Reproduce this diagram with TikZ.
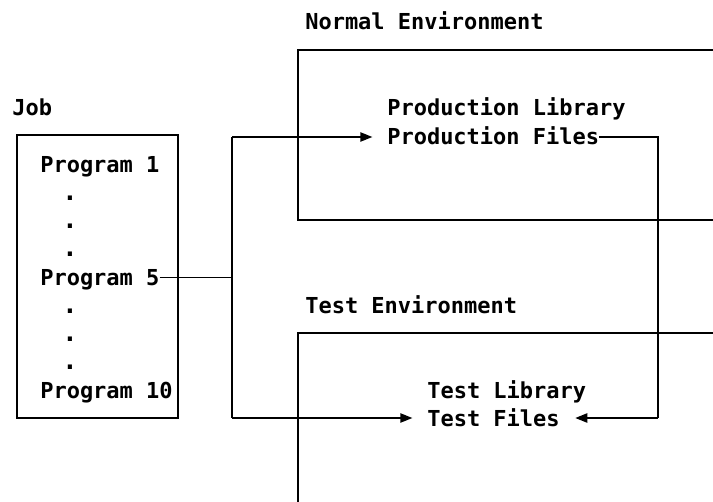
\documentclass[tikz,border=0pt]{standalone}
\usepackage{fontspec}
\newfontfamily\dmono{DejaVu Sans Mono}
\usetikzlibrary{arrows.meta}
\begin{document}
\begin{tikzpicture}[x=0.75pt,y=-0.75pt,
  lbl/.style={font=\dmono\bfseries\fontsize{16.5}{18}\selectfont, inner sep=0pt, text height=12pt, text depth=0pt, anchor=west},
  dotlbl/.style={font=\dmono\bfseries\fontsize{19}{20}\selectfont, inner sep=0pt, anchor=base},
  ln/.style={line width=1.05pt, draw=black},
  arr/.style={ln, -{Triangle[length=9pt,width=7pt]}}]
\useasboundingbox (0,0) rectangle (713,502);
% labels
\node[lbl] (job) at (12,108) {Job};
\node[lbl] (normal) at (305,22) {Normal Environment};
\node[lbl] (plib) at (387,108) {Production Library};
\node[lbl] (pf) at (387,137) {Production Files};
\node[lbl] (testenv) at (305,305) {Test Environment};
\node[lbl] (tlib) at (427,390) {Test Library};
\node[lbl] (tf) at (427,418) {Test Files};
% job box
\draw[ln] (17,135) rectangle (178,418);
\node[lbl] (p1) at (40,164.5) {Program 1};
\node[lbl] (p5) at (40,277.5) {Program 5};
\node[lbl] (p10) at (40,390.5) {Program 10};
\foreach \k/\nm in {1/da,2/db,3/dc,5/dd,6/de,7/df}{
  \node[dotlbl] (\nm) at (70,{172+28.2*\k}) {.};
}
% environment boxes (open to the right / bottom)
\draw[ln] (713,50) -- (298,50) -- (298,220) -- (713,220);
\draw[ln] (713,333) -- (298,333) -- (298,502);
% connectors
\coordinate (jt) at (232,137);
\coordinate (jb) at (232,418);
\coordinate (rt) at (658,137);
\coordinate (rb) at (658,418);
\draw[ln] (p5.east) -- (p5.east -| jt);
\draw[ln] (jt) -- (jb);
\draw[arr] (jt) -- ([xshift=-11pt]pf.west);
\draw[arr] (jb) -- ([xshift=-11pt]tf.west);
\draw[ln] (pf.east) -- (rt) -- (rb);
\draw[arr] (rb) -- ([xshift=11.5pt]tf.east);
\end{tikzpicture}
\end{document}
